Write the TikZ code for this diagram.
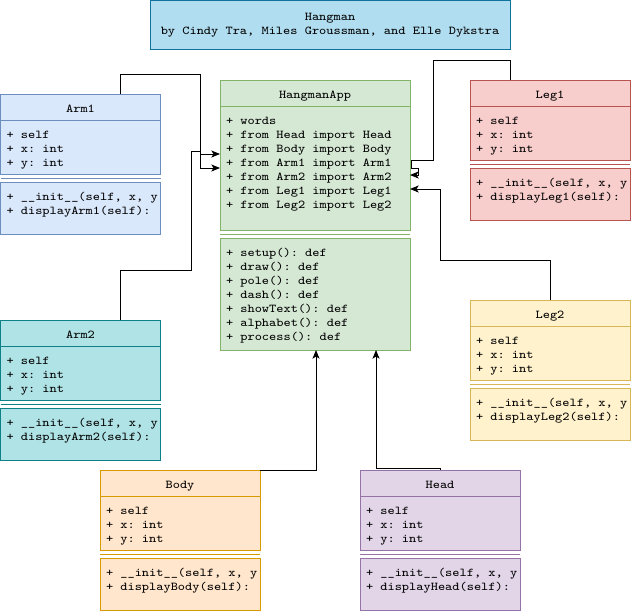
\documentclass[tikz,border=0pt]{standalone}
\usepackage{fontspec}
\setmonofont{Latin Modern Mono}[FakeStretch=1.143]
\usetikzlibrary{calc,arrows.meta}

% colour pairs: fill and outline of each class
\definecolor{titlefill}{HTML}{B1DDF0}\definecolor{titleline}{HTML}{10739E}
\definecolor{appfill}{HTML}{D5E8D4}\definecolor{appline}{HTML}{82B366}
\definecolor{armAfill}{HTML}{DAE8FC}\definecolor{armAline}{HTML}{6C8EBF}
\definecolor{armBfill}{HTML}{B0E3E6}\definecolor{armBline}{HTML}{0E8088}
\definecolor{legAfill}{HTML}{F8CECC}\definecolor{legAline}{HTML}{B85450}
\definecolor{legBfill}{HTML}{FFF2CC}\definecolor{legBline}{HTML}{D6B656}
\definecolor{bodyfill}{HTML}{FFE6CC}\definecolor{bodyline}{HTML}{D79B00}
\definecolor{headfill}{HTML}{E1D5E7}\definecolor{headline}{HTML}{9673A6}

\newcommand\umlfont{\ttfamily\fontsize{9}{10.5}\selectfont}

\tikzset{
  titlecol/.style={draw=titleline, fill=titlefill},
  appcol/.style={draw=appline, fill=appfill},
  armAcol/.style={draw=armAline, fill=armAfill},
  armBcol/.style={draw=armBline, fill=armBfill},
  legAcol/.style={draw=legAline, fill=legAfill},
  legBcol/.style={draw=legBline, fill=legBfill},
  bodycol/.style={draw=bodyline, fill=bodyfill},
  headcol/.style={draw=headline, fill=headfill},
  titlebox/.style={rectangle, titlecol, line width=0.75pt, inner sep=0pt,
    outer sep=0pt, font=\umlfont, align=center},
  classhead/.style={rectangle, line width=0.75pt, inner sep=0pt, outer sep=0pt,
    font=\umlfont, minimum height=19.5pt, text height=7.75pt, text depth=0pt,
    anchor=north west},
  classpart/.style={rectangle, line width=0.75pt, inner sep=0pt, outer sep=0pt,
    anchor=north west},
  members/.style={font=\umlfont, align=left, inner sep=0pt, outer sep=0pt,
    anchor=north west},
  assoc/.style={draw=black, line width=0.75pt,
    -{Stealth[length=6.5pt,width=5.25pt,inset=1.6pt]}},
}

% class box: name, colour style, left, top, width, attribute height,
% method height, title, attributes; the methods follow as one more argument
\newcommand\umlclass[9]{%
  \tikzset{umlcur/.style={#2}}%
  \def\umlname{#1}\def\umlwidth{#5}\def\umlmethh{#7}%
  \node[classhead, umlcur, minimum width=#5*0.75pt] (#1) at (#3,#4) {#8};
  \node[classpart, umlcur, minimum width=#5*0.75pt, minimum height=#6*0.75pt]
    (#1-attr) at (#1.south west) {};
  \node[members] (#1-attrtext) at ($(#1-attr.north west)+(6,8.5)$) {\strut #9};
  \umlmethods}
\newcommand\umlmethods[1]{%
  \draw[umlcur, fill=none, line width=0.75pt]
    ($(\umlname-attr.south west)+(0,4)$) -- ($(\umlname-attr.south east)+(0,4)$);
  \node[classpart, umlcur, minimum width=\umlwidth*0.75pt,
    minimum height=\umlmethh*0.75pt]
    (\umlname-meth) at ($(\umlname-attr.south west)+(0,8)$) {};
  \node[members] (\umlname-methtext) at ($(\umlname-meth.north west)+(6,8.5)$)
    {\strut #1};}

\begin{document}
\begin{tikzpicture}[x=0.75pt, y=-0.75pt]
  \fill[white] (0,0) rectangle (631,614);
  \useasboundingbox (0,0) rectangle (631,614);

  \node[titlebox, minimum width=270pt, minimum height=36.75pt] (title) at (330,25)
    {\strut Hangman\\\strut by Cindy Tra, Miles Groussman, and Elle Dykstra};

  \umlclass{app}{appcol}{220}{80}{190}{124}{112}{HangmanApp}
    {+ words\\+ from Head import Head\\+ from Body import Body\\%
     + from Arm1 import Arm1\\+ from Arm2 import Arm2\\%
     + from Leg1 import Leg1\\+ from Leg2 import Leg2}
    {+ setup(): def\\+ draw(): def\\+ pole(): def\\+ dash(): def\\%
     + showText(): def\\+ alphabet(): def\\+ process(): def}

  \umlclass{arm1}{armAcol}{0.5}{94}{160}{54}{52}{Arm1}
    {+ self\\+ x: int\\+ y: int}
    {+ \_\_init\_\_(self, x, y\\+ displayArm1(self):}

  \umlclass{arm2}{armBcol}{0.5}{320}{160}{54}{52}{Arm2}
    {+ self\\+ x: int\\+ y: int}
    {+ \_\_init\_\_(self, x, y\\+ displayArm2(self):}

  \umlclass{leg1}{legAcol}{470}{80}{160}{54}{52}{Leg1}
    {+ self\\+ x: int\\+ y: int}
    {+ \_\_init\_\_(self, x, y\\+ displayLeg1(self):}

  \umlclass{leg2}{legBcol}{470}{300}{160}{54}{52}{Leg2}
    {+ self\\+ x: int\\+ y: int}
    {+ \_\_init\_\_(self, x, y\\+ displayLeg2(self):}

  \umlclass{body}{bodycol}{100}{470}{160}{54}{52}{Body}
    {+ self\\+ x: int\\+ y: int}
    {+ \_\_init\_\_(self, x, y\\+ displayBody(self):}

  \umlclass{head}{headcol}{360}{470}{160}{54}{52}{Head}
    {+ self\\+ x: int\\+ y: int}
    {+ \_\_init\_\_(self, x, y\\+ displayHead(self):}

  % imports into HangmanApp
  \draw[assoc] ($(arm1.north west)+(120,0)$) -- ++(0,-20) -- ++(80,0)
    |- (app-attr.west);
  \draw[assoc] ($(arm2.north west)+(120,0)$) -- ++(0,-50) -- ++(71,0)
    -- ++(0,-119) -- ++(9,0) -- ++(0,3) -- ($(app-attr.west)+(0,-14)$);
  \draw[assoc] ($(leg1.north west)+(40,0)$) -- ++(0,-20) -- ++(-77,0)
    -- ++(0,100) -- ++(-22,0) -- ++(0,8) -- ++(7,0) -- ++(0,7)
    -- ($(app-attr.east)+(0,7)$);
  \draw[assoc] ($(leg2.north west)+(80,0)$) -- ++(0,-40) -- ++(-110,0)
    |- ($(app-attr.east)+(0,21)$);
  \draw[assoc] (body.north east) -| ($(app-meth.south west)+(96,0)$);
  \draw[assoc] ($(head.north west)+(80,0)$) -- ++(0,-2)
    -| ($(app-meth.south west)+(156,0)$);
\end{tikzpicture}
\end{document}
